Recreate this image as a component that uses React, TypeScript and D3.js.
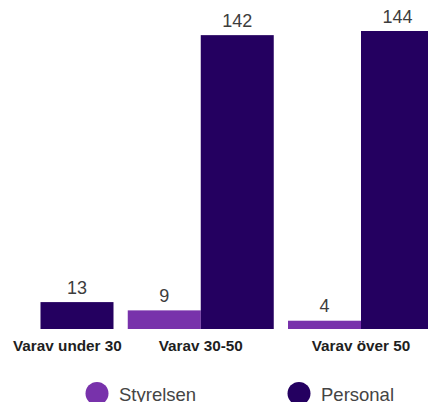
import React from "react";
import * as d3 from "d3";

const categories = ["Varav under 30", "Varav 30-50", "Varav över 50"];
const seriesNames = ["Styrelsen", "Personal"];
const styrelsen = [0, 9, 4];
const personal = [13, 142, 144];
const colors = ["#7832AB", "#240060"];

const W = 428;
const H = 402;

export default function App() {
  const seriesValues = [styrelsen, personal];
  const y = d3.scaleLinear().domain([0, 144]).range([329, 31]);
  const x0 = d3.scalePoint<string>().domain(categories).range([40.5, 361]);
  const x1 = d3.scaleBand<string>().domain(seriesNames).range([-73, 73]);
  const legendX = d3.scalePoint<string>().domain(seriesNames).range([97, 299]);
  const font = "'Liberation Sans', Arial, sans-serif";

  return (
    <svg width={W} height={H} style={{ position: "absolute", left: 0, top: 0 }} fontFamily={font}>
      {categories.map((c, ci) => (
        <g key={c}>
          {seriesNames.map((s, si) => {
            const v = seriesValues[si][ci];
            const bx = (x0(c) as number) + (x1(s) as number);
            const by = y(v);
            return (
              <g key={s}>
                <rect x={bx} y={by} width={x1.bandwidth()} height={y(0) - by} fill={colors[si]} />
                {v > 0 && (
                  <text x={bx + x1.bandwidth() / 2} y={by - 8.5} textAnchor="middle" fontSize={18} fill="#3d3d3d">
                    {v}
                  </text>
                )}
              </g>
            );
          })}
          <text
            x={ci === 0 ? 13 : (x0(c) as number)}
            y={351}
            textAnchor={ci === 0 ? "start" : "middle"}
            fontSize={15.3}
            fontWeight="bold"
            fill="#1e1e1e"
          >
            {c}
          </text>
        </g>
      ))}
      {seriesNames.map((s, si) => (
        <g key={s} transform={`translate(${legendX(s)},393.5)`}>
          <circle r={11.5} fill={colors[si]} />
          <text x={22} y={7} fontSize={18.5} fill="#444">
            {s}
          </text>
        </g>
      ))}
    </svg>
  );
}
